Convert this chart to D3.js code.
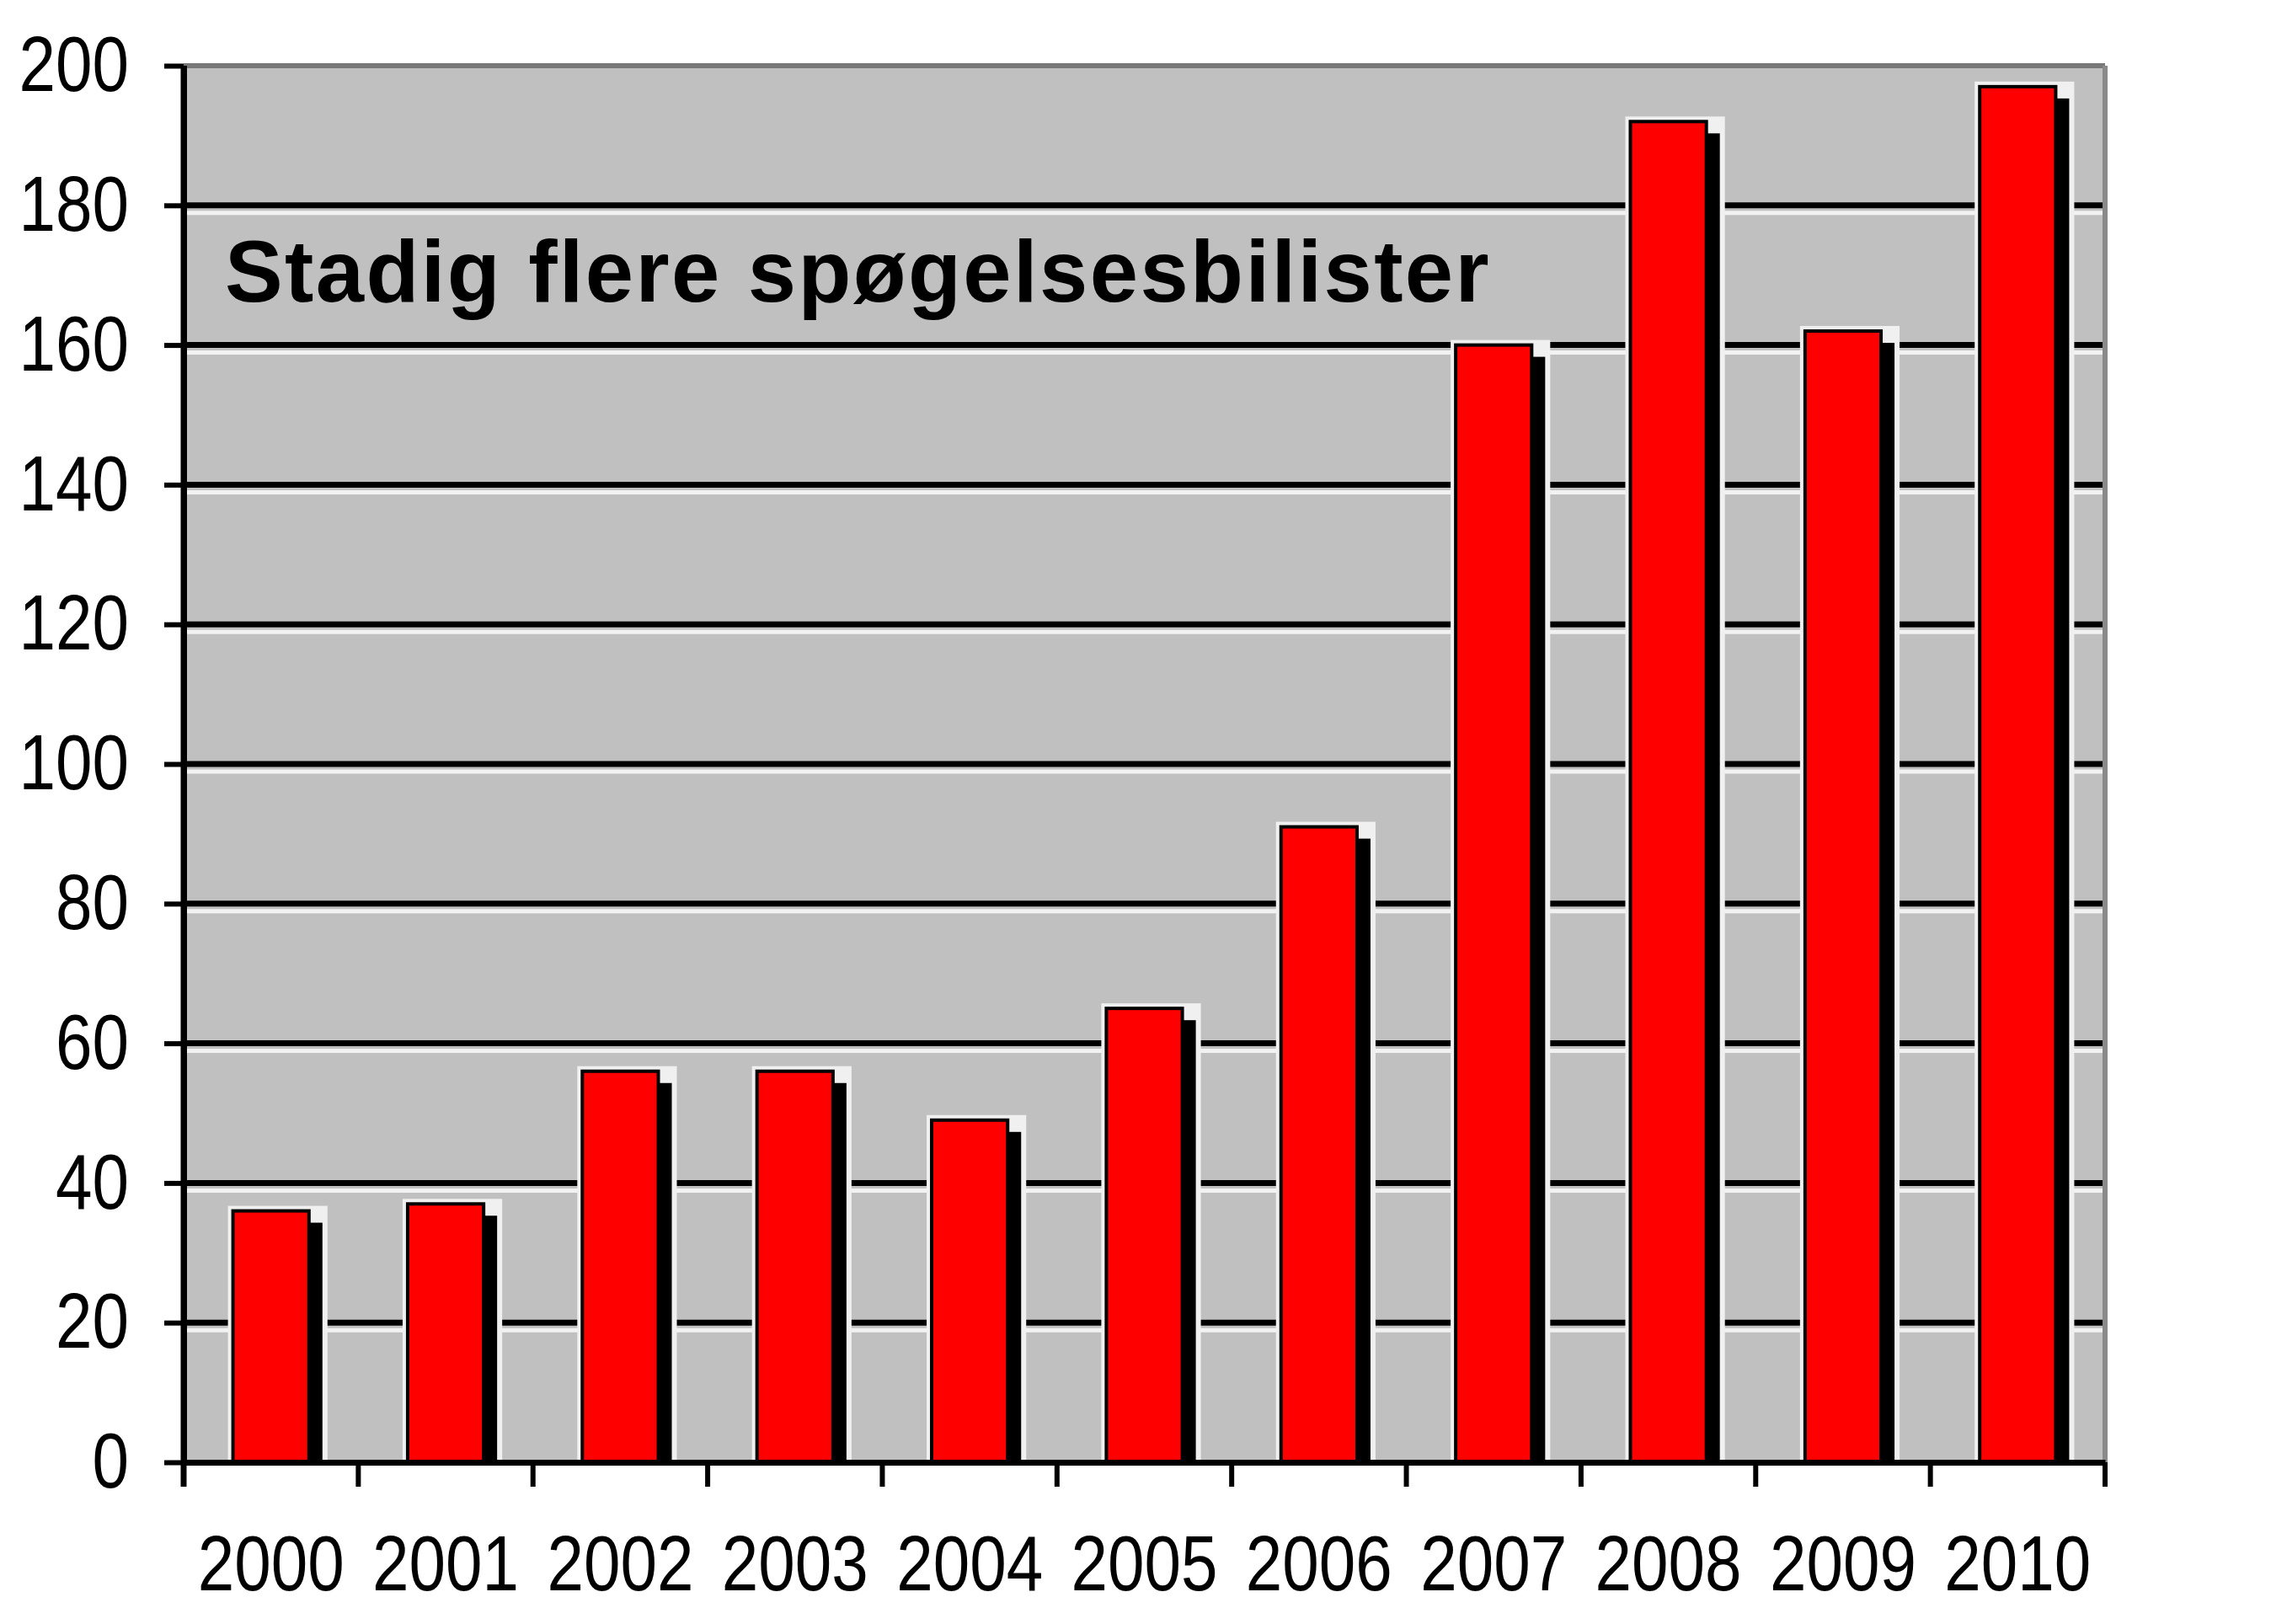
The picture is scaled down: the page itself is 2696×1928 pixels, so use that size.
<!DOCTYPE html>
<html>
<head>
<meta charset="utf-8">
<script src="https://cdn.jsdelivr.net/npm/d3@7"></script>
<style>
  body { margin: 0; background: #fff; }
  svg { display: block; }
</style>
</head>
<body>
<svg id="chart"></svg>
<script>
const width = 2696;
const height = 1928;

// data
const years = ["2000", "2001", "2002", "2003", "2004", "2005", "2006", "2007", "2008", "2009", "2010"];
const counts = [36, 37, 56, 56, 49, 65, 91, 160, 192, 162, 197];
const yTicks = [0, 20, 40, 60, 80, 100, 120, 140, 160, 180, 200];
const title = "Stadig flere spøgelsesbilister";

const plotLeft = 218, plotRight = 2499, plotTop = 78, plotBottom = 1736;
const labelFont = "'Liberation Sans', Arial, sans-serif";
const digitWidth = 43.5; // labels in the picture are narrow

const svg = d3.select("#chart")
  .attr("width", width)
  .attr("height", height)
  .attr("viewBox", `0 0 ${width} ${height}`);

const x = d3.scaleBand()
  .domain(years)
  .range([plotLeft, plotRight])
  .paddingInner(0.565)
  .paddingOuter(0.2825);

const y = d3.scaleLinear()
  .domain([0, 200])
  .range([plotBottom, plotTop]);

// plot background
svg.append("rect")
  .attr("x", plotLeft).attr("y", plotTop)
  .attr("width", plotRight - plotLeft).attr("height", plotBottom - plotTop)
  .attr("fill", "#c0c0c0");

// gridlines with the white highlight under each
const grid = yTicks.filter(d => d > 0 && d < 200);
svg.append("g").selectAll("line")
  .data(grid)
  .join("line")
  .attr("x1", plotLeft).attr("x2", plotRight)
  .attr("y1", d => y(d) + 9).attr("y2", d => y(d) + 9)
  .attr("stroke", "#f2f2f2")
  .attr("stroke-width", 5);

svg.append("g").selectAll("line")
  .data(grid)
  .join("line")
  .attr("x1", plotLeft).attr("x2", plotRight)
  .attr("y1", d => y(d)).attr("y2", d => y(d))
  .attr("stroke", "#000")
  .attr("stroke-width", 7);

// top and right border
svg.append("line")
  .attr("x1", plotLeft).attr("x2", plotRight)
  .attr("y1", plotTop).attr("y2", plotTop)
  .attr("stroke", "#787878").attr("stroke-width", 6);
svg.append("line")
  .attr("x1", plotRight).attr("x2", plotRight)
  .attr("y1", plotTop).attr("y2", plotBottom)
  .attr("stroke", "#8a8a8a").attr("stroke-width", 6);

// title inside the plot
svg.append("text")
  .attr("x", 267)
  .attr("y", 358)
  .attr("font-family", "'Liberation Sans', Arial, sans-serif")
  .attr("font-weight", "bold")
  .attr("font-size", 103)
  .attr("letter-spacing", 2.4)
  .attr("fill", "#000")
  .text(title);

const data = years.map((d, i) => ({ year: d, value: counts[i] }));
const bw = x.bandwidth();
const sdx = 16, sdy = 14;

// light halo round each bar
svg.append("g").selectAll("rect")
  .data(data)
  .join("rect")
  .attr("x", d => x(d.year) - 6)
  .attr("y", d => y(d.value) - 6)
  .attr("width", bw + sdx + 12)
  .attr("height", d => y(0) - y(d.value) + 6)
  .attr("fill", "#f0f0f0");

// drop shadow
svg.append("g").selectAll("rect")
  .data(data)
  .join("rect")
  .attr("x", d => x(d.year) + sdx)
  .attr("y", d => y(d.value) + sdy)
  .attr("width", bw)
  .attr("height", d => y(0) - y(d.value) - sdy)
  .attr("fill", "#000");

// bars
svg.append("g").selectAll("rect")
  .data(data)
  .join("rect")
  .attr("x", d => x(d.year))
  .attr("y", d => y(d.value))
  .attr("width", bw)
  .attr("height", d => y(0) - y(d.value))
  .attr("fill", "#ff0000")
  .attr("stroke", "#000")
  .attr("stroke-width", 4);

// y axis
const yAxis = svg.append("g")
  .attr("transform", `translate(${plotLeft},0)`)
  .call(d3.axisLeft(y)
    .tickValues(yTicks)
    .tickSize(23)
    .tickSizeOuter(0)
    .tickPadding(42)
    .tickFormat(d3.format("d")));

yAxis.select(".domain").attr("stroke", "#000").attr("stroke-width", 7);
yAxis.selectAll(".tick line").attr("stroke", "#000").attr("stroke-width", 6);
yAxis.selectAll(".tick text")
  .attr("font-family", labelFont)
  .attr("font-size", 93)
  .attr("textLength", d => String(d).length * digitWidth)
  .attr("lengthAdjust", "spacingAndGlyphs")
  .attr("fill", "#000");

// x axis
const xAxis = svg.append("g")
  .attr("transform", `translate(0,${plotBottom})`)
  .call(d3.axisBottom(x).tickSize(0).tickSizeOuter(0));

xAxis.select(".domain").attr("stroke", "#000").attr("stroke-width", 7);
xAxis.selectAll(".tick text")
  .attr("y", 152)
  .attr("dy", null)
  .attr("font-family", labelFont)
  .attr("font-size", 93)
  .attr("textLength", d => d.length * digitWidth)
  .attr("lengthAdjust", "spacingAndGlyphs")
  .attr("fill", "#000");

// category boundary ticks below the axis, left axis runs down to them
const edges = d3.range(years.length + 1).map(i => plotLeft + i * x.step());
svg.append("g").selectAll("line")
  .data(edges)
  .join("line")
  .attr("x1", d => d).attr("x2", d => d)
  .attr("y1", plotBottom).attr("y2", plotBottom + 29)
  .attr("stroke", "#000")
  .attr("stroke-width", 6);

svg.append("line")
  .attr("x1", plotLeft).attr("x2", plotLeft)
  .attr("y1", plotTop).attr("y2", plotBottom + 29)
  .attr("stroke", "#000")
  .attr("stroke-width", 7);
</script>
</body>
</html>
